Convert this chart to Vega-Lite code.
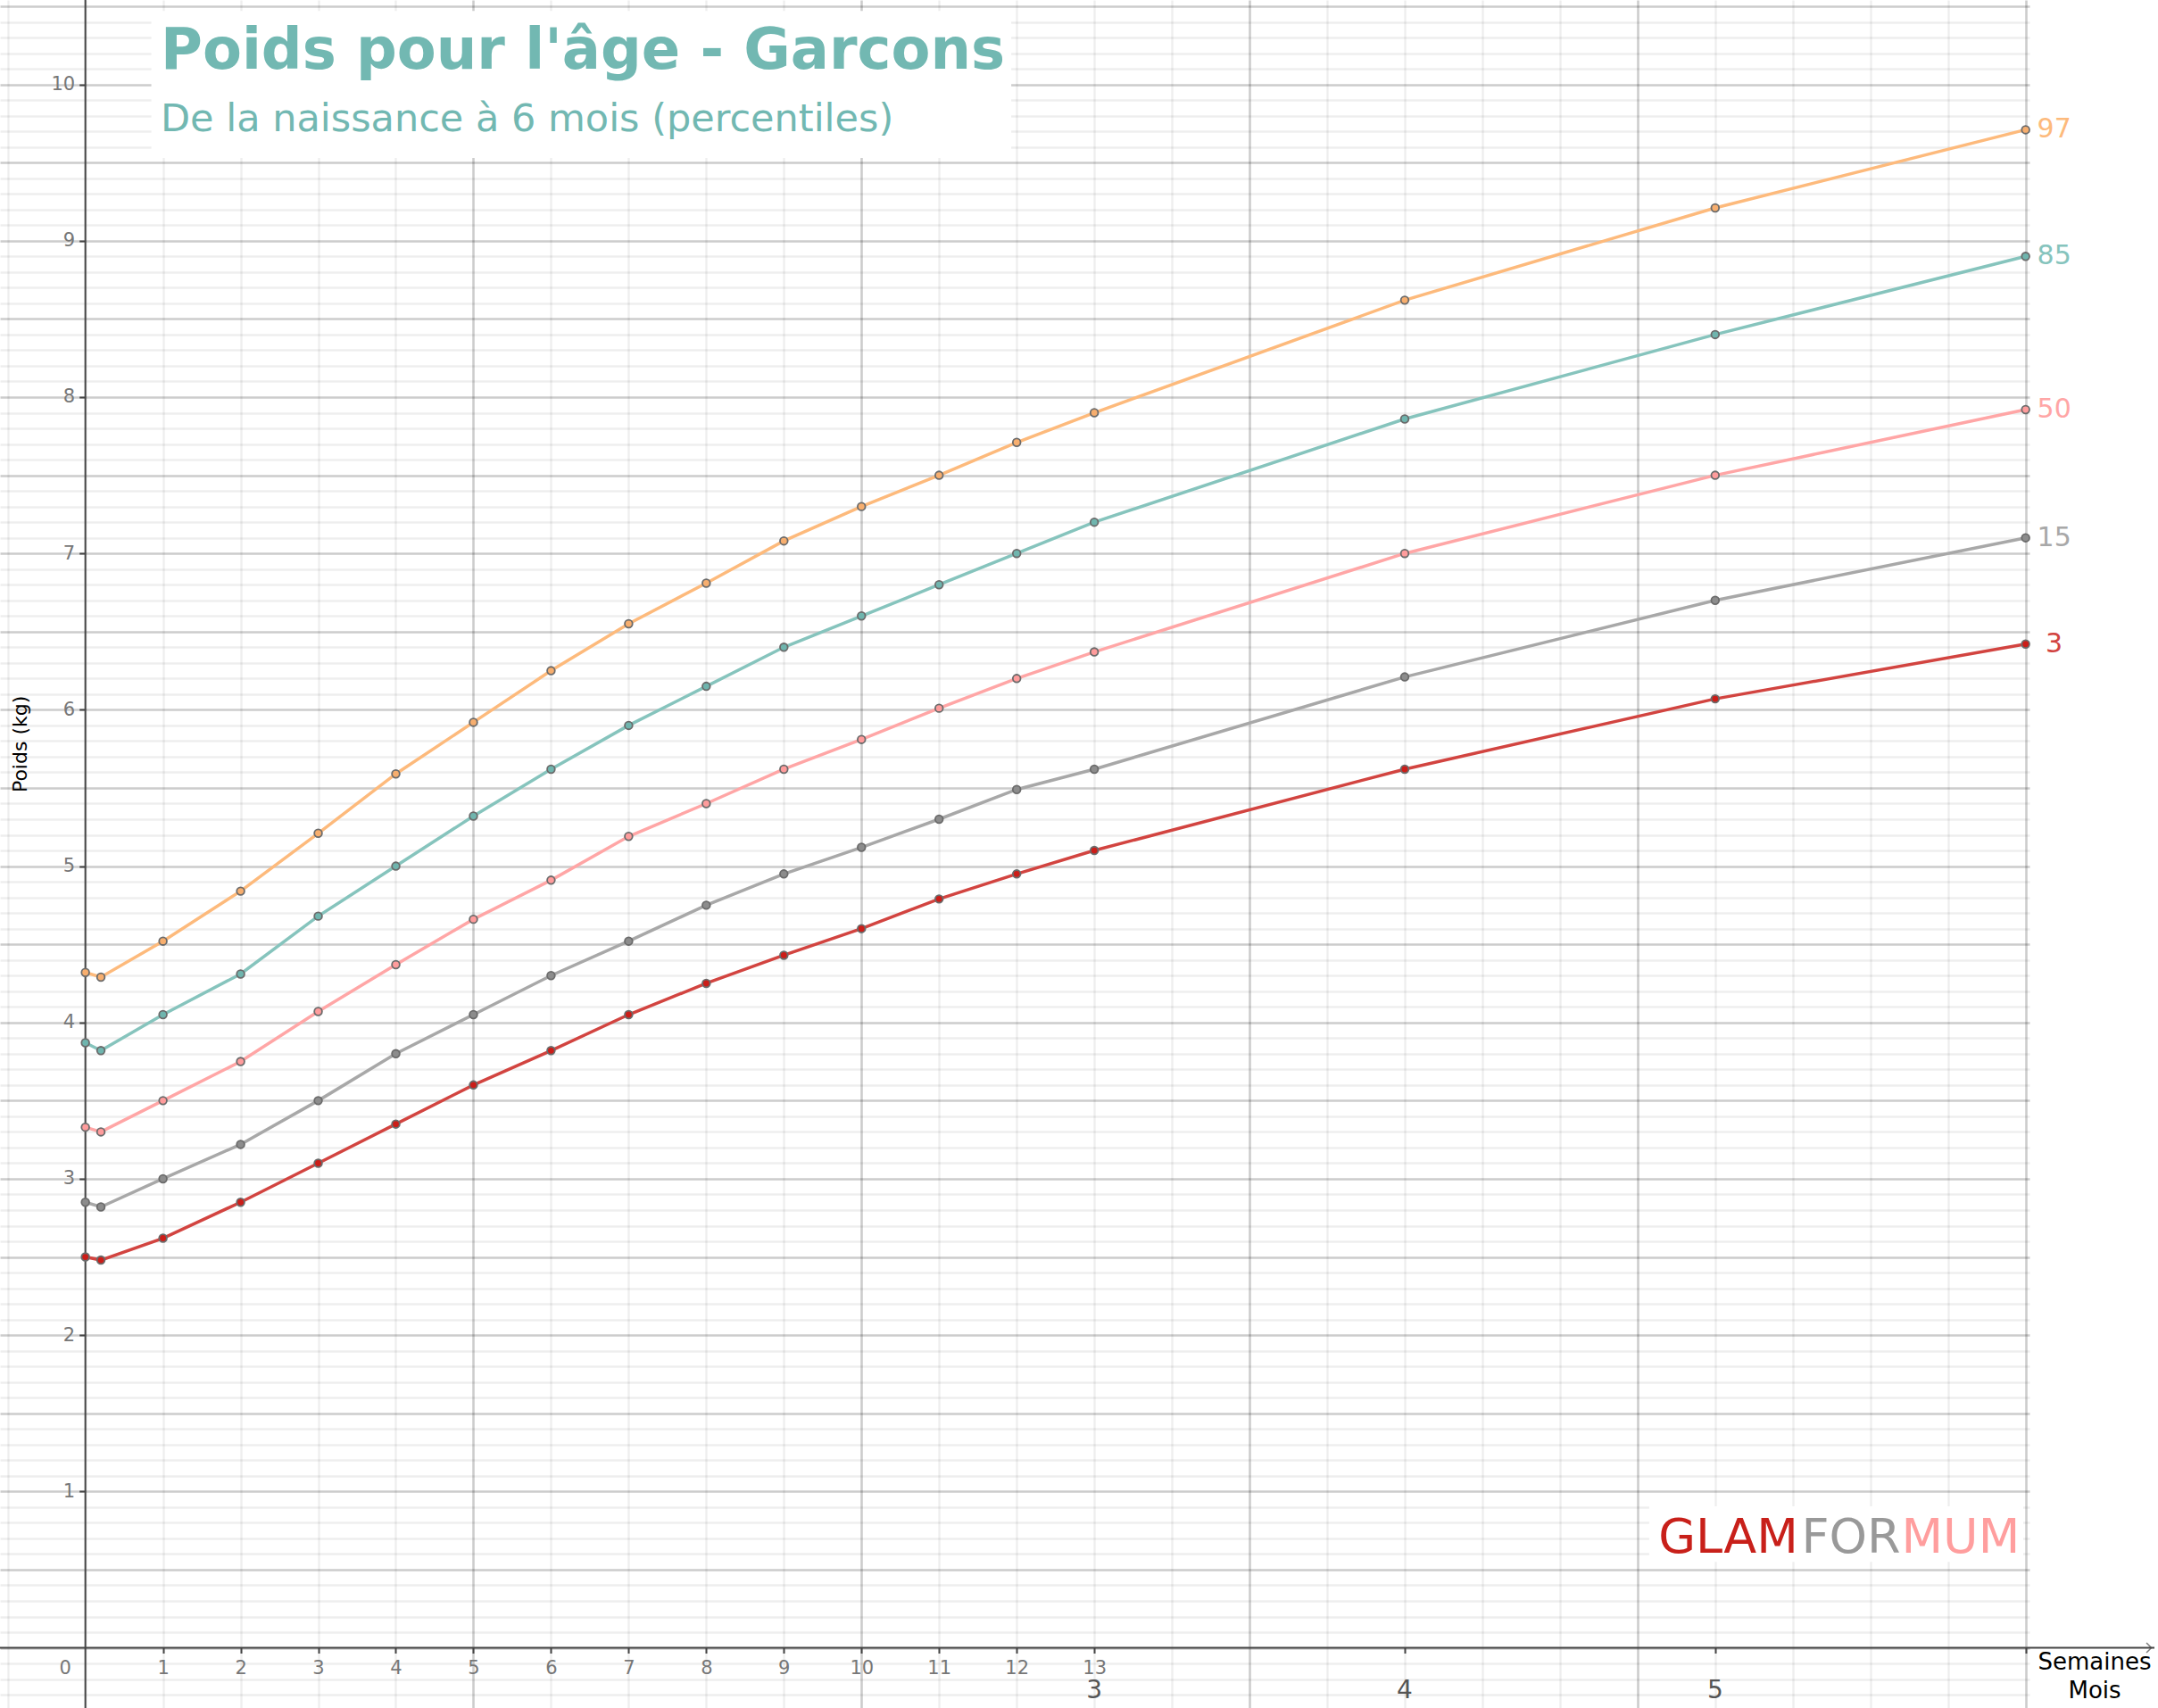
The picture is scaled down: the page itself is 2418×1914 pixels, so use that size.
{
  "$schema": "https://vega.github.io/schema/vega-lite/v6.json",
  "width": 2274,
  "height": 1914,
  "autosize": {"type": "none"},
  "padding": {"left": 0, "right": 144, "top": 0, "bottom": 0},
  "background": "white",
  "config": {"view": {"stroke": null}, "font": "DejaVu Sans"},
  "data": {"values": [
    {"p":"97","w":0,"kg":4.32},{"p":"97","w":0.2,"kg":4.29},{"p":"97","w":1,"kg":4.52},{"p":"97","w":2,"kg":4.84},{"p":"97","w":3,"kg":5.21},{"p":"97","w":4,"kg":5.59},{"p":"97","w":5,"kg":5.92},{"p":"97","w":6,"kg":6.25},{"p":"97","w":7,"kg":6.55},{"p":"97","w":8,"kg":6.81},{"p":"97","w":9,"kg":7.08},{"p":"97","w":10,"kg":7.30},{"p":"97","w":11,"kg":7.50},{"p":"97","w":12,"kg":7.71},{"p":"97","w":13,"kg":7.90},{"p":"97","w":17,"kg":8.62},{"p":"97","w":21,"kg":9.21},{"p":"97","w":25,"kg":9.71},
    {"p":"85","w":0,"kg":3.87},{"p":"85","w":0.2,"kg":3.82},{"p":"85","w":1,"kg":4.05},{"p":"85","w":2,"kg":4.31},{"p":"85","w":3,"kg":4.68},{"p":"85","w":4,"kg":5.00},{"p":"85","w":5,"kg":5.32},{"p":"85","w":6,"kg":5.62},{"p":"85","w":7,"kg":5.90},{"p":"85","w":8,"kg":6.15},{"p":"85","w":9,"kg":6.40},{"p":"85","w":10,"kg":6.60},{"p":"85","w":11,"kg":6.80},{"p":"85","w":12,"kg":7.00},{"p":"85","w":13,"kg":7.20},{"p":"85","w":17,"kg":7.86},{"p":"85","w":21,"kg":8.40},{"p":"85","w":25,"kg":8.90},
    {"p":"50","w":0,"kg":3.33},{"p":"50","w":0.2,"kg":3.30},{"p":"50","w":1,"kg":3.50},{"p":"50","w":2,"kg":3.75},{"p":"50","w":3,"kg":4.07},{"p":"50","w":4,"kg":4.37},{"p":"50","w":5,"kg":4.66},{"p":"50","w":6,"kg":4.91},{"p":"50","w":7,"kg":5.19},{"p":"50","w":8,"kg":5.40},{"p":"50","w":9,"kg":5.62},{"p":"50","w":10,"kg":5.81},{"p":"50","w":11,"kg":6.01},{"p":"50","w":12,"kg":6.20},{"p":"50","w":13,"kg":6.37},{"p":"50","w":17,"kg":7.00},{"p":"50","w":21,"kg":7.50},{"p":"50","w":25,"kg":7.92},
    {"p":"15","w":0,"kg":2.85},{"p":"15","w":0.2,"kg":2.82},{"p":"15","w":1,"kg":3.00},{"p":"15","w":2,"kg":3.22},{"p":"15","w":3,"kg":3.50},{"p":"15","w":4,"kg":3.80},{"p":"15","w":5,"kg":4.05},{"p":"15","w":6,"kg":4.30},{"p":"15","w":7,"kg":4.52},{"p":"15","w":8,"kg":4.75},{"p":"15","w":9,"kg":4.95},{"p":"15","w":10,"kg":5.12},{"p":"15","w":11,"kg":5.30},{"p":"15","w":12,"kg":5.49},{"p":"15","w":13,"kg":5.62},{"p":"15","w":17,"kg":6.21},{"p":"15","w":21,"kg":6.70},{"p":"15","w":25,"kg":7.10},
    {"p":"3","w":0,"kg":2.50},{"p":"3","w":0.2,"kg":2.48},{"p":"3","w":1,"kg":2.62},{"p":"3","w":2,"kg":2.85},{"p":"3","w":3,"kg":3.10},{"p":"3","w":4,"kg":3.35},{"p":"3","w":5,"kg":3.60},{"p":"3","w":6,"kg":3.82},{"p":"3","w":7,"kg":4.05},{"p":"3","w":8,"kg":4.25},{"p":"3","w":9,"kg":4.43},{"p":"3","w":10,"kg":4.60},{"p":"3","w":11,"kg":4.79},{"p":"3","w":12,"kg":4.95},{"p":"3","w":13,"kg":5.10},{"p":"3","w":17,"kg":5.62},{"p":"3","w":21,"kg":6.07},{"p":"3","w":25,"kg":6.42}
  ]},
  "layer": [
    {
      "mark": {"type": "line", "strokeWidth": 3.5, "clip": false},
      "encoding": {
        "x": {"field": "w", "type": "quantitative",
          "scale": {"domain": [-1.1, 25.05], "nice": false, "zero": false},
          "axis": {
            "orient": "bottom", "offset": -67.5, "title": null, "domain": false,
            "values": [-1,0,1,2,3,4,5,6,7,8,9,10,11,12,13,14,15,16,17,18,19,20,21,22,23,24,25],
            "tickCount": 500,
            "grid": true,
            "gridColor": {"condition": {"test": "datum.value % 5 === 0 && datum.value > 0", "value": "rgba(0,0,0,0.2)"}, "value": "rgba(0,0,0,0.065)"},
            "gridWidth": {"condition": {"test": "datum.value % 5 === 0 && datum.value > 0", "value": 2.6}, "value": 2.4},
            "ticks": true, "tickColor": "#444", "tickSize": 6, "tickWidth": 2,
            "tickOpacity": {"condition": {"test": "(datum.value >= 1 && datum.value <= 13) || datum.value === 17 || datum.value === 21 || datum.value === 25", "value": 1}, "value": 0},
            "labelExpr": "datum.value >= 0 && datum.value <= 13 ? format(datum.value, 'd') : ''",
            "labelFont": "DejaVu Sans", "labelFontSize": 21, "labelColor": "#777", "labelPadding": 6,
            "labelOffset": {"condition": {"test": "datum.value === 0", "value": -23}, "value": 0},
            "labelFlush": false, "labelOverlap": false, "labelBound": false
          }
        },
        "y": {"field": "kg", "type": "quantitative",
          "scale": {"domain": [-0.385, 10.54], "nice": false, "zero": false},
          "axis": {
            "orient": "left", "offset": -95.7, "title": null, "domain": false,
            "values": [-0.3,-0.2,-0.1,0,0.1,0.2,0.3,0.4,0.5,0.6,0.7,0.8,0.9,1,1.1,1.2,1.3,1.4,1.5,1.6,1.7,1.8,1.9,2,2.1,2.2,2.3,2.4,2.5,2.6,2.7,2.8,2.9,3,3.1,3.2,3.3,3.4,3.5,3.6,3.7,3.8,3.9,4,4.1,4.2,4.3,4.4,4.5,4.6,4.7,4.8,4.9,5,5.1,5.2,5.3,5.4,5.5,5.6,5.7,5.8,5.9,6,6.1,6.2,6.3,6.4,6.5,6.6,6.7,6.8,6.9,7,7.1,7.2,7.3,7.4,7.5,7.6,7.7,7.8,7.9,8,8.1,8.2,8.3,8.4,8.5,8.6,8.7,8.8,8.9,9,9.1,9.2,9.3,9.4,9.5,9.6,9.7,9.8,9.9,10,10.1,10.2,10.3,10.4,10.5],
            "tickCount": 500,
            "grid": true,
            "gridColor": {"condition": {"test": "abs(datum.value*2 - round(datum.value*2)) < 0.01", "value": "rgba(0,0,0,0.2)"}, "value": "rgba(0,0,0,0.065)"},
            "gridWidth": {"condition": {"test": "abs(datum.value*2 - round(datum.value*2)) < 0.01", "value": 2.6}, "value": 2.4},
            "ticks": true, "tickColor": "#444", "tickSize": 7, "tickWidth": 2,
            "tickOpacity": {"condition": {"test": "datum.value >= 0.99 && abs(datum.value - round(datum.value)) < 0.01", "value": 1}, "value": 0},
            "labelExpr": "datum.value >= 0.99 && abs(datum.value - round(datum.value)) < 0.01 ? format(datum.value, 'd') : ''",
            "labelFont": "DejaVu Sans", "labelFontSize": 21, "labelColor": "#777", "labelPadding": 5,
            "labelOverlap": false, "labelBound": false
          }
        },
        "color": {"field": "p", "type": "nominal",
          "scale": {"domain": ["97","85","50","15","3"], "range": ["#FDBA7C","#86C4BD","#FFA6A6","#A8A8A8","#D24440"]},
          "legend": null}
      }
    },
    {
      "data": {"values": [{}]},
      "mark": {"type": "rule", "color": "#444", "strokeWidth": 2, "clip": false},
      "encoding": {"x": {"datum": 0, "type": "quantitative"}, "y": {"datum": -0.385, "type": "quantitative"}, "y2": {"datum": 10.54}}
    },
    {
      "data": {"values": [{}]},
      "mark": {"type": "rule", "color": "#444", "strokeWidth": 2, "clip": false},
      "encoding": {"x": {"datum": -1.1, "type": "quantitative"}, "x2": {"datum": 26.66}, "y": {"datum": 0, "type": "quantitative"}}
    },
    {
      "data": {"values": [{}]},
      "mark": {"type": "point", "shape": "M-1,-1L0,0L-1,1", "filled": false, "stroke": "#444", "strokeWidth": 1.5, "size": 120, "clip": false},
      "encoding": {"x": {"datum": 26.62, "type": "quantitative"}, "y": {"datum": 0, "type": "quantitative"}}
    },
    {
      "mark": {"type": "point", "filled": true, "size": 75, "stroke": "#6b6b6b", "strokeWidth": 1.8, "opacity": 1, "clip": false},
      "encoding": {
        "x": {"field": "w", "type": "quantitative"},
        "y": {"field": "kg", "type": "quantitative"},
        "fill": {"field": "p", "type": "nominal",
          "scale": {"domain": ["97","85","50","15","3"], "range": ["#F7AE6E","#6FB5AE","#FF9C9C","#8C8C8C","#CC1D18"]},
          "legend": null}
      }
    },
    {
      "transform": [{"filter": "datum.w === 25"}],
      "mark": {"type": "text", "align": "center", "baseline": "middle", "dx": 32, "fontSize": 30, "clip": false},
      "encoding": {
        "x": {"field": "w", "type": "quantitative"},
        "y": {"field": "kg", "type": "quantitative"},
        "text": {"field": "p"},
        "color": {"field": "p", "type": "nominal", "legend": null}
      }
    },
    {
      "data": {"values": [{}]},
      "mark": {"type": "rect", "fill": "white", "clip": false},
      "encoding": {"x": {"datum": 0.85, "type": "quantitative"}, "x2": {"datum": 11.93}, "y": {"datum": 10.47, "type": "quantitative"}, "y2": {"datum": 9.53}}
    },
    {
      "data": {"values": [{}]},
      "mark": {"type": "text", "text": "Poids pour l'âge - Garcons", "align": "left", "baseline": "alphabetic", "font": "DejaVu Sans", "fontWeight": "bold", "fontSize": 64, "color": "#72B8B2", "clip": false},
      "encoding": {"x": {"datum": 0.97, "type": "quantitative"}, "y": {"datum": 10.1, "type": "quantitative"}}
    },
    {
      "data": {"values": [{}]},
      "mark": {"type": "text", "text": "De la naissance à 6 mois (percentiles)", "align": "left", "baseline": "alphabetic", "font": "DejaVu Sans", "fontSize": 43, "color": "#72B8B2", "clip": false},
      "encoding": {"x": {"datum": 0.97, "type": "quantitative"}, "y": {"datum": 9.7, "type": "quantitative"}}
    },
    {
      "data": {"values": [{}]},
      "mark": {"type": "rect", "fill": "white", "clip": false},
      "encoding": {"x": {"datum": 20.15, "type": "quantitative"}, "x2": {"datum": 24.97}, "y": {"datum": 0.905, "type": "quantitative"}, "y2": {"datum": 0.55}}
    },
    {
      "data": {"values": [{}]},
      "mark": {"type": "text", "text": "GLAM", "align": "right", "baseline": "alphabetic", "fontSize": 54, "color": "#C8201A", "clip": false},
      "encoding": {"x": {"datum": 22.07, "type": "quantitative"}, "y": {"datum": 0.609, "type": "quantitative"}}
    },
    {
      "data": {"values": [{}]},
      "mark": {"type": "text", "text": "FOR", "align": "center", "baseline": "alphabetic", "fontSize": 54, "color": "#999999", "clip": false},
      "encoding": {"x": {"datum": 22.75, "type": "quantitative"}, "y": {"datum": 0.609, "type": "quantitative"}}
    },
    {
      "data": {"values": [{}]},
      "mark": {"type": "text", "text": "MUM", "align": "left", "baseline": "alphabetic", "fontSize": 54, "color": "#FF9E9E", "clip": false},
      "encoding": {"x": {"datum": 23.4, "type": "quantitative"}, "y": {"datum": 0.609, "type": "quantitative"}}
    },
    {
      "data": {"values": [{"w": 13, "m": "3"}, {"w": 17, "m": "4"}, {"w": 21, "m": "5"}]},
      "mark": {"type": "text", "align": "center", "baseline": "middle", "fontSize": 28, "color": "#555", "clip": false},
      "encoding": {"x": {"field": "w", "type": "quantitative"}, "y": {"datum": -0.275, "type": "quantitative"}, "text": {"field": "m"}}
    },
    {
      "data": {"values": [{}]},
      "mark": {"type": "text", "text": "Semaines", "align": "center", "baseline": "middle", "font": "DejaVu Sans", "fontSize": 26, "color": "#000", "clip": false},
      "encoding": {"x": {"datum": 25.89, "type": "quantitative"}, "y": {"datum": -0.095, "type": "quantitative"}}
    },
    {
      "data": {"values": [{}]},
      "mark": {"type": "text", "text": "Mois", "align": "center", "baseline": "middle", "font": "DejaVu Sans", "fontSize": 26, "color": "#000", "clip": false},
      "encoding": {"x": {"datum": 25.89, "type": "quantitative"}, "y": {"datum": -0.277, "type": "quantitative"}}
    },
    {
      "data": {"values": [{}]},
      "mark": {"type": "text", "text": "Poids (kg)", "align": "center", "baseline": "middle", "angle": 270, "fontSize": 22, "color": "#000", "clip": false},
      "encoding": {"x": {"datum": -0.84, "type": "quantitative"}, "y": {"datum": 5.78, "type": "quantitative"}}
    }
  ]
}
